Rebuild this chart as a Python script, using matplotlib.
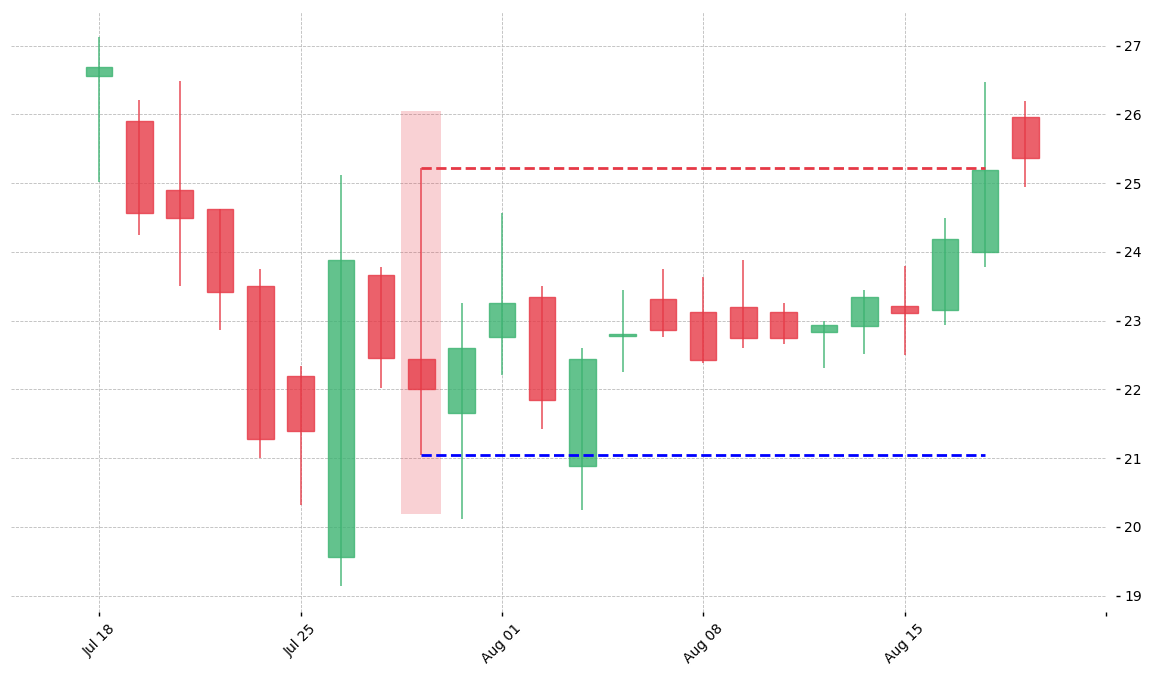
import pandas as pd
import matplotlib.pyplot as plt

# OHLC values (one candle per trading day)
dates = pd.bdate_range('2022-07-18', periods=24)
opens = [26.56, 25.91, 24.90, 24.63, 23.50, 22.19, 19.56, 23.66, 22.44, 21.65,
         22.76, 23.34, 20.88, 22.78, 23.31, 23.12, 23.20, 23.12, 22.84, 22.92,
         23.21, 23.16, 24.00, 25.96]
highs = [27.13, 26.21, 26.49, 24.63, 23.75, 22.34, 25.12, 23.78, 25.22, 23.25,
         24.57, 23.50, 22.60, 23.44, 23.75, 23.63, 23.88, 23.25, 23.00, 23.44,
         23.80, 24.50, 26.47, 26.20]
lows = [25.02, 24.25, 23.50, 22.87, 21.00, 20.32, 19.14, 22.02, 21.04, 20.12,
        22.21, 21.43, 20.25, 22.25, 22.76, 22.38, 22.60, 22.66, 22.31, 22.52,
        22.50, 22.93, 23.78, 24.94]
closes = [26.69, 24.56, 24.50, 23.41, 21.28, 21.40, 23.88, 22.46, 22.00, 22.60,
          23.25, 21.84, 22.44, 22.81, 22.87, 22.42, 22.75, 22.75, 22.93, 23.34,
          23.11, 24.19, 25.19, 25.37]

# pattern candle, its highlight zone and the breakout levels
pattern_idx = 8
zone_top, zone_bottom = 26.05, 20.19
resistance = 25.22
support = 21.04
level_end = 22

green = 'mediumseagreen'
red = '#e63946'

fig = plt.figure(figsize=(11.58, 6.78), dpi=100)
ax = fig.add_axes([0.0095, 0.0973, 0.9455, 0.885])

x = list(range(len(dates)))

# highlight zone behind the pattern candle
ax.bar(pattern_idx, zone_top - zone_bottom, bottom=zone_bottom, width=1.0,
       color=red, alpha=0.23, linewidth=0, zorder=1)

for i in x:
    c = green if closes[i] >= opens[i] else red
    ax.vlines(i, lows[i], highs[i], color=c, linewidth=1.1, alpha=0.9, zorder=2)
    lo = min(opens[i], closes[i])
    hi = max(opens[i], closes[i])
    ax.bar(i, hi - lo, bottom=lo, width=0.66, color=c, alpha=0.8,
           edgecolor=c, linewidth=1, zorder=3)

ax.hlines(resistance, pattern_idx, level_end, colors=red, linestyles='--',
          linewidth=2, zorder=4)
ax.hlines(support, pattern_idx, level_end, colors='blue', linestyles='--',
          linewidth=2, zorder=4)

ax.set_xlim(-2.19, 25.0)
ax.set_ylim(18.76, 27.49)

tick_pos = [0, 5, 10, 15, 20, 25]
tick_lab = [dates[i].strftime('%b %d') if i < len(dates) else '' for i in tick_pos]
ax.set_xticks(tick_pos)
ax.set_xticklabels(tick_lab, rotation=45)
ax.set_yticks(range(19, 28))

ax.yaxis.tick_right()
for s in ax.spines.values():
    s.set_visible(False)
ax.spines['right'].set_position(('outward', 7))
ax.tick_params(axis='both', labelsize=10, length=3, width=1)
ax.tick_params(axis='x', pad=4)
ax.tick_params(axis='y', pad=3)

ax.grid(True, color='#bbbbbb', linestyle='--', linewidth=0.6)
ax.set_axisbelow(True)

plt.savefig('out.png')
